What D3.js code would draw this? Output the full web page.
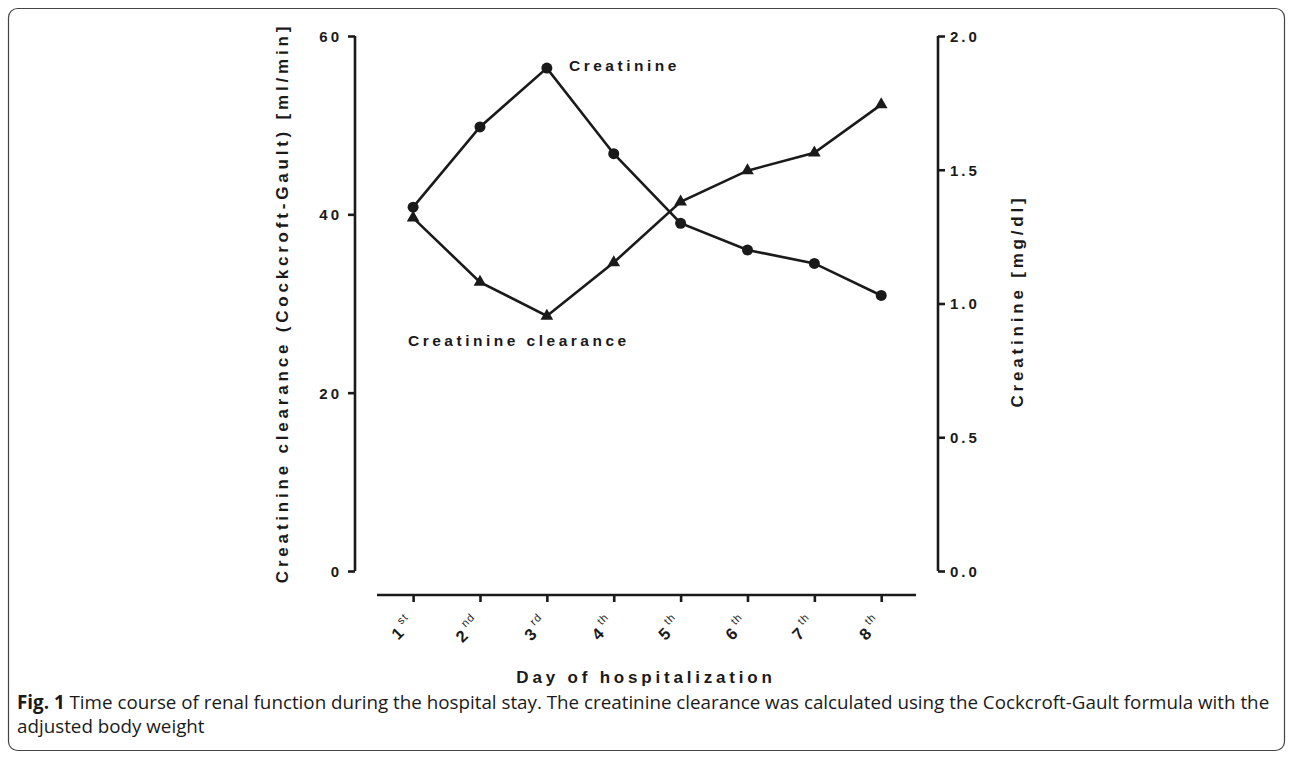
<!DOCTYPE html>
<html>
<head>
<meta charset="utf-8">
<script src="https://cdn.jsdelivr.net/npm/d3@7"></script>
<style>
  html, body { margin: 0; padding: 0; background: #fff; }
  svg text { fill: #1a1a1a; }
</style>
</head>
<body>
<svg id="chart" width="1292" height="759"></svg>
<script>
// ---- data ----
const days = [1, 2, 3, 4, 5, 6, 7, 8];
const dayDigits = ["1", "2", "3", "4", "5", "6", "7", "8"];
const daySuffixes = ["st", "nd", "rd", "th", "th", "th", "th", "th"];
const creatinine = [1.36, 1.66, 1.88, 1.56, 1.30, 1.20, 1.15, 1.03];          // mg/dl (right axis)
const clearance = [39.6, 32.4, 28.6, 34.6, 41.4, 44.9, 46.9, 52.3];            // ml/min (left axis)
const leftTicks = [0, 20, 40, 60];
const rightTicks = [0.0, 0.5, 1.0, 1.5, 2.0];
const leftTitle = "Creatinine clearance (Cockcroft-Gault) [ml/min]";
const rightTitle = "Creatinine [mg/dl]";
const xTitle = "Day of hospitalization";
const seriesLabels = ["Creatinine", "Creatinine clearance"];
const captionBold = "Fig. 1";
const captionLine1 = " Time course of renal function during the hospital stay. The creatinine clearance was calculated using the Cockcroft-Gault formula with the";
const captionLine2 = "adjusted body weight";

// ---- setup ----
const svg = d3.select("#chart");
const ink = "#1a1a1a";
const axisFont = "'Liberation Sans', Arial, sans-serif";

// frame
svg.append("rect")
  .attr("x", 8.5).attr("y", 8.5).attr("width", 1276).attr("height", 742)
  .attr("rx", 9).attr("ry", 9)
  .attr("fill", "none").attr("stroke", "#444").attr("stroke-width", 1.2);

const x = d3.scaleLinear().domain([0.46, 8.52]).range([377, 916]);
const yL = d3.scaleLinear().domain([0, 60]).range([571, 36]);
const yR = d3.scaleLinear().domain([0, 2]).range([571, 36]);

// left axis
const gL = svg.append("g").attr("transform", "translate(355,0)")
  .call(d3.axisLeft(yL).tickValues(leftTicks).tickSize(7).tickPadding(6).tickFormat(d3.format("d")));
// right axis
const gR = svg.append("g").attr("transform", "translate(938,0)")
  .call(d3.axisRight(yR).tickValues(rightTicks).tickSize(7).tickPadding(5).tickFormat(d3.format(".1f")));
// x axis
const gX = svg.append("g").attr("transform", "translate(0,595)")
  .call(d3.axisBottom(x).tickValues(days).tickSize(7).tickFormat(""));

[gL, gR, gX].forEach(g => {
  g.select(".domain").attr("stroke", ink).attr("stroke-width", 2.6);
  g.selectAll(".tick line").attr("stroke", ink).attr("stroke-width", 2.6);
  g.selectAll("text")
    .attr("font-family", axisFont).attr("font-weight", "bold")
    .attr("font-size", 15).attr("letter-spacing", "3px").attr("fill", ink);
});
// GraphPad-style domain without outer ticks
gL.select(".domain").attr("d", `M0,${yL(60)}V${yL(0)}`);
gR.select(".domain").attr("d", `M0,${yR(2)}V${yR(0)}`);
gX.select(".domain").attr("d", `M${x.range()[0]},0H${x.range()[1]}`);
gL.selectAll(".tick text").attr("dy", "0.36em");
gR.selectAll(".tick text").attr("dy", "0.36em");

// rotated x tick labels with superscripts
const xl = svg.append("g");
days.forEach((d, i) => {
  const t = xl.append("text")
    .attr("transform", `translate(${x(d) + 2},624) rotate(-45)`)
    .attr("text-anchor", "end")
    .attr("font-family", axisFont);
  t.append("tspan").attr("font-weight", "bold").attr("font-size", 16.5).text(dayDigits[i]);
  t.append("tspan").attr("font-size", 11).attr("dx", 4).attr("dy", -9)
    .attr("letter-spacing", "1px").text(daySuffixes[i]);
});

// lines
const lineC = d3.line().x((d, i) => x(days[i])).y(d => yR(d));
const lineK = d3.line().x((d, i) => x(days[i])).y(d => yL(d));
svg.append("path").datum(clearance).attr("d", lineK)
  .attr("fill", "none").attr("stroke", ink).attr("stroke-width", 2.6);
svg.append("path").datum(creatinine).attr("d", lineC)
  .attr("fill", "none").attr("stroke", ink).attr("stroke-width", 2.6);

// markers
svg.append("g").selectAll("path").data(clearance).join("path")
  .attr("d", d3.symbol().type(d3.symbolTriangle).size(70))
  .attr("transform", (d, i) => `translate(${x(days[i])},${yL(d)})`)
  .attr("fill", ink);
svg.append("g").selectAll("circle").data(creatinine).join("circle")
  .attr("cx", (d, i) => x(days[i])).attr("cy", d => yR(d)).attr("r", 5.5)
  .attr("fill", ink);

// series labels
svg.append("text").attr("x", 569).attr("y", 71)
  .attr("font-family", axisFont).attr("font-weight", "bold").attr("font-size", 15.5)
  .attr("letter-spacing", "3.5px").text(seriesLabels[0]);
svg.append("text").attr("x", 408).attr("y", 346)
  .attr("font-family", axisFont).attr("font-weight", "bold").attr("font-size", 15.5)
  .attr("letter-spacing", "3.5px").text(seriesLabels[1]);

// axis titles
svg.append("text").attr("transform", "translate(288,303) rotate(-90)")
  .attr("text-anchor", "middle")
  .attr("font-family", axisFont).attr("font-weight", "bold").attr("font-size", 17)
  .attr("letter-spacing", "3.8px").text(leftTitle);
svg.append("text").attr("transform", "translate(1023,301) rotate(-90)")
  .attr("text-anchor", "middle")
  .attr("font-family", axisFont).attr("font-weight", "bold").attr("font-size", 17)
  .attr("letter-spacing", "3.8px").text(rightTitle);
svg.append("text").attr("x", 646).attr("y", 683)
  .attr("text-anchor", "middle")
  .attr("font-family", axisFont).attr("font-weight", "bold").attr("font-size", 17)
  .attr("letter-spacing", "3.8px").text(xTitle);

// caption
const cap = svg.append("text").attr("x", 17).attr("y", 709)
  .attr("font-family", "'Open Sans', sans-serif").attr("font-size", 18.8);
cap.append("tspan").attr("font-weight", "bold").text(captionBold);
cap.append("tspan").text(captionLine1);
svg.append("text").attr("x", 17).attr("y", 733)
  .attr("font-family", "'Open Sans', sans-serif").attr("font-size", 18.8)
  .text(captionLine2);
</script>
</body>
</html>
